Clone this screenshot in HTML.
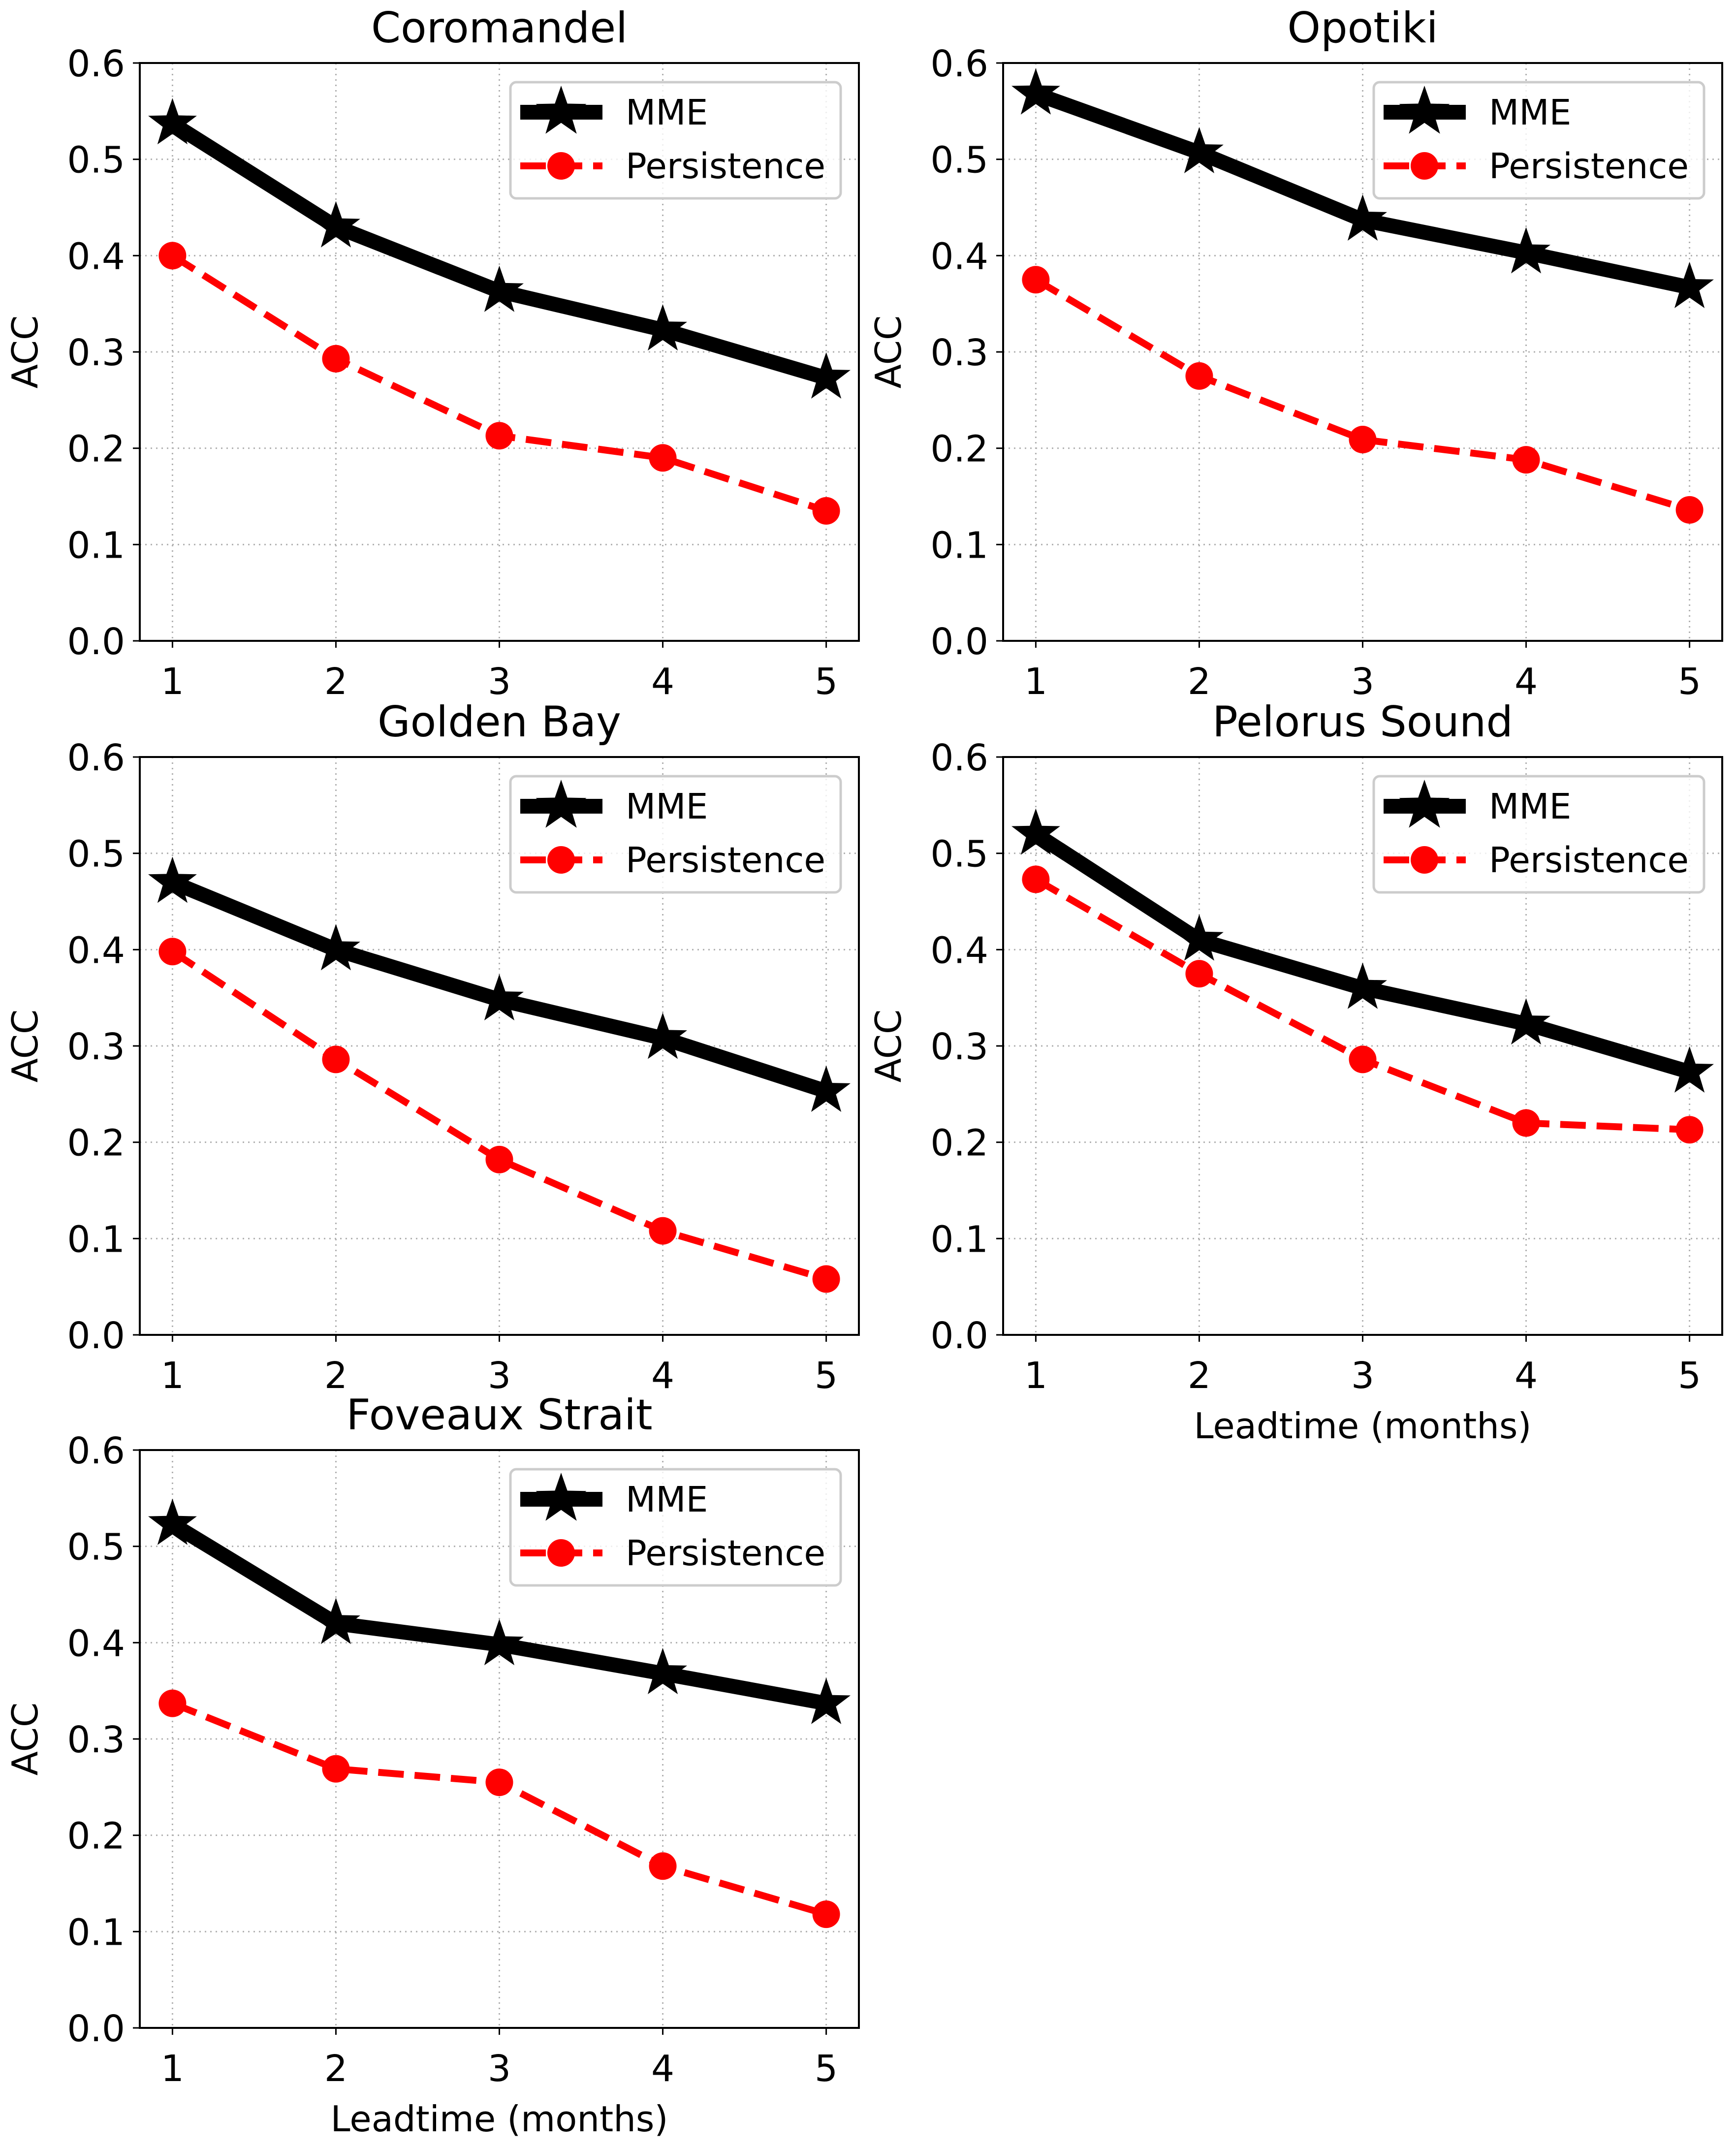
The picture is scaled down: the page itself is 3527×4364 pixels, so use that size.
<!DOCTYPE html>
<html><head><meta charset="utf-8"><style>
html,body{margin:0;padding:0;background:#fff}
svg{display:block}
text{font-family:"DejaVu Sans","Liberation Sans",sans-serif;fill:#000}
</style></head><body>
<svg id="fig" width="3527" height="4364" viewBox="0 0 3527 4364" xmlns="http://www.w3.org/2000/svg"></svg>
<script>
const titles = ["Coromandel","Opotiki","Golden Bay","Pelorus Sound","Foveaux Strait"];
const leadtimes = [1,2,3,4,5];
const mmeCoromandel = [0.537,0.430,0.363,0.323,0.273];
const perCoromandel = [0.400,0.293,0.213,0.190,0.135];
const mmeOpotiki = [0.568,0.507,0.437,0.403,0.367];
const perOpotiki = [0.375,0.275,0.209,0.188,0.136];
const mmeGoldenBay = [0.470,0.400,0.348,0.308,0.253];
const perGoldenBay = [0.398,0.286,0.182,0.108,0.058];
const mmePelorus = [0.520,0.410,0.360,0.323,0.273];
const perPelorus = [0.473,0.375,0.286,0.220,0.213];
const mmeFoveaux = [0.523,0.420,0.398,0.368,0.337];
const perFoveaux = [0.337,0.269,0.255,0.168,0.118];
const yTicks = [0,0.1,0.2,0.3,0.4,0.5,0.6];
const yTickLabels = ["0.0","0.1","0.2","0.3","0.4","0.5","0.6"];
const xTickLabels = ["1","2","3","4","5"];
const mmeAll = [mmeCoromandel,mmeOpotiki,mmeGoldenBay,mmePelorus,mmeFoveaux];
const perAll = [perCoromandel,perOpotiki,perGoldenBay,perPelorus,perFoveaux];

const NS="http://www.w3.org/2000/svg";
const svg=document.getElementById('fig');
function mk(tag,attrs,parent){const e=document.createElementNS(NS,tag);for(const k in attrs)e.setAttribute(k,attrs[k]);(parent||svg).appendChild(e);return e;}
const W=1461,H=1174;
const origins=[[284,128],[2038,128],[284,1538],[2038,1538],[284,2946]];
const showXLabel=[false,false,false,true,true];
function starPts(cx,cy,R){const r=R*0.4;let p=[];for(let i=0;i<10;i++){const a=-Math.PI/2+i*Math.PI/5;const rr=i%2?r:R;p.push((cx+rr*Math.cos(a)).toFixed(1)+','+(cy+rr*Math.sin(a)).toFixed(1));}return p.join(' ');}

origins.forEach((o,pi)=>{
  const [L,T]=o;
  const sx=v=>L+(v-0.8)/4.4*W;
  const sy=v=>T+H-(v/0.6)*H;
  const g=mk('g',{});
  
  
  leadtimes.forEach(v=>{const l=mk('line',{x1:sx(v),x2:sx(v),y1:T,y2:T+H,stroke:'#b0b0b0','stroke-width':3,'stroke-dasharray':'3,8'},g);
    });
  yTicks.forEach(v=>{const l=mk('line',{x1:L,x2:L+W,y1:sy(v),y2:sy(v),stroke:'#b0b0b0','stroke-width':3,'stroke-dasharray':'3,8'},g);
    });
  yTicks.forEach((v,i)=>{mk('line',{x1:L-14,x2:L,y1:sy(v),y2:sy(v),stroke:'#000','stroke-width':3},g);
    const t=mk('text',{x:L-30,y:sy(v)+27,'text-anchor':'end','font-size':74},g);t.textContent=yTickLabels[i];
    });
  leadtimes.forEach((v,i)=>{mk('line',{x1:sx(v),x2:sx(v),y1:T+H,y2:T+H+14,stroke:'#000','stroke-width':3},g);
    const t=mk('text',{x:sx(v),y:T+H+108,'text-anchor':'middle','font-size':74},g);t.textContent=xTickLabels[i];
    });
  const pp=perAll[pi].map((v,i)=>sx(leadtimes[i])+','+sy(v)).join(' ');
  const pl=mk('polyline',{points:pp,fill:'none',stroke:'#ff0000','stroke-width':14,'stroke-dasharray':'52,22'},g);
  
  perAll[pi].forEach((v,i)=>{const c=mk('circle',{cx:sx(leadtimes[i]),cy:sy(v),r:28,fill:'#ff0000'},g);
    });
  const mp=mmeAll[pi].map((v,i)=>sx(leadtimes[i])+','+sy(v)).join(' ');
  const ml=mk('polyline',{points:mp,fill:'none',stroke:'#000','stroke-width':30,'stroke-linejoin':'round'},g);
  
  mmeAll[pi].forEach((v,i)=>{const s=mk('polygon',{points:starPts(sx(leadtimes[i]),sy(v),52),fill:'#000'},g);
    });
  mk('rect',{x:L,y:T,width:W,height:H,fill:'none',stroke:'#000','stroke-width':4},g);
  const tt=mk('text',{x:L+W/2,y:T-42,'text-anchor':'middle','font-size':86},g);tt.textContent=titles[pi];
  
  const yl=mk('text',{x:0,y:0,'text-anchor':'middle','font-size':72,transform:`translate(${L-208},${T+H/2}) rotate(-90)`},g);yl.textContent='ACC';
  
  if(showXLabel[pi]){const xl=mk('text',{x:L+W/2,y:T+H+210,'text-anchor':'middle','font-size':72},g);xl.textContent='Leadtime (months)';
    }
  const lg=mk('g',{},g);
  
  const lx=L+753,ly=T+39;
  mk('rect',{x:lx,y:ly,width:671,height:236,rx:12,fill:'#fff','fill-opacity':0.8,stroke:'#cccccc','stroke-width':5},lg);
  mk('line',{x1:lx+20,x2:lx+187,y1:ly+61,y2:ly+61,stroke:'#000','stroke-width':30},lg);
  mk('polygon',{points:starPts(lx+103,ly+61,54),fill:'#000'},lg);
  const t1=mk('text',{x:lx+234,y:ly+86,'font-size':71},lg);t1.textContent='MME';
  
  mk('line',{x1:lx+20,x2:lx+187,y1:ly+170,y2:ly+170,stroke:'#ff0000','stroke-width':14,'stroke-dasharray':'52,22'},lg);
  mk('circle',{cx:lx+103,cy:ly+170,r:28,fill:'#ff0000'},lg);
  const t2=mk('text',{x:lx+234,y:ly+195,'font-size':71},lg);t2.textContent='Persistence';
  
});
</script>
</body></html>
